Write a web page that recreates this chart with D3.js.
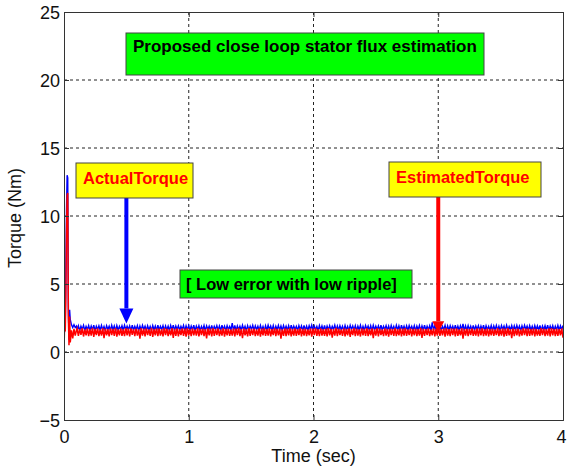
<!DOCTYPE html>
<html><head><meta charset="utf-8">
<script src="https://cdn.jsdelivr.net/npm/d3@7"></script>
<style>body{margin:0;background:#fff}svg{display:block}text{font-family:"Liberation Sans",Arial,sans-serif}</style>
</head><body><svg id="c" width="567" height="469"></svg>
<script>
const xTicks=[0,1,2,3,4];
const yTicks=[-5,0,5,10,15,20,25];
const xLabel="Time (sec)";
const yLabel="Torque (Nm)";
const transientT=[0,0.005,0.01,0.015,0.02,0.025,0.03,0.035,0.04,0.045,0.05,0.06,0.07,0.08,0.09,0.1];
const actualTransient=[0,2.5,2.2,6.3,10.5,13,12.8,3.2,0.9,3.1,2.4,2.0,1.8,2.0,1.8,1.9];
const estTransient=[0,2.2,1.5,4.0,8.8,11.5,11.7,2.5,0.5,2.6,0.7,1.6,1.0,1.7,1.2,1.6];
const actualSteady=[
1.61,1.93,1.57,1.90,1.66,1.96,1.59,1.88,1.64,1.94,
1.58,1.91,1.63,1.97,1.56,1.89,1.65,1.92,1.60,1.95,
1.62,1.88,1.57,1.94,1.66,1.90,1.59,1.97,1.63,1.91,
1.56,1.95,1.61,1.89,1.64,1.93,1.58,1.96,1.62,1.90,
1.65,1.92,1.57,1.98,1.60,1.89,1.63,1.94,1.56,1.91,
1.61,1.96,1.66,1.90,1.58,1.93,1.62,1.88,1.59,1.95,
1.64,1.91,1.57,1.97,1.60,1.89,1.65,1.94,1.58,1.92,
1.62,1.90,1.56,1.95,1.63,1.98,1.59,1.91,1.66,1.93,
1.60,1.89,1.64,1.96,1.57,1.92,1.61,1.94,1.58,1.90,
1.63,1.97,1.56,1.91,1.65,1.93,1.59,1.88,1.62,1.95,
1.57,1.92,1.64,1.90,1.60,1.96,1.58,1.89,1.66,1.94,
1.61,1.91,1.57,1.97,1.63,1.90,1.59,1.93,1.65,1.88,
1.62,2.12,1.58,1.95,1.56,1.92,1.64,1.90,1.60,1.97,
1.63,1.89,1.57,1.94,1.61,1.91,1.66,1.96,1.59,1.92,
1.64,1.90,1.58,1.95,1.62,1.88,1.56,1.93,1.60,1.97,
1.65,1.91,1.59,1.94,1.57,1.89,1.63,1.96,1.61,1.92,
1.58,1.95,1.64,1.90,1.60,1.93,1.56,1.98,1.62,1.91,
1.66,1.89,1.59,1.94,1.63,1.92,1.57,1.96,1.61,1.90,
1.58,1.93,1.65,1.97,1.60,1.91,1.64,1.88,1.57,1.95,
1.62,1.92,1.59,1.96,1.56,1.90,1.63,1.94,1.61,1.89,
1.65,1.97,1.58,1.91,1.60,1.93,1.64,1.90,1.57,1.95,
1.62,1.88,1.59,1.96,1.66,1.92,1.61,1.94,1.56,1.90,
1.63,1.97,1.58,1.89,1.60,1.95,1.65,1.91,1.59,1.93,
1.57,1.96,1.62,1.90,1.64,1.92,1.58,1.98,1.61,1.89,
1.66,1.94,1.60,1.91,1.57,1.95,1.63,1.88,1.59,1.96,
1.62,1.92,1.56,1.97,1.64,1.90,1.60,1.93,1.58,1.95,
1.65,1.89,1.61,1.94,1.57,1.91,1.63,1.96,1.59,1.92,
1.62,1.97,1.58,1.90,1.64,1.93,1.56,2.18,1.60,1.94,
1.66,1.91,1.59,1.95,1.61,1.89,1.63,1.96,1.57,1.92,
1.60,1.94,1.65,1.90,1.58,1.97,1.62,1.91,1.59,1.93,
1.64,2.06,1.57,1.92,1.61,1.95,1.63,1.89,1.58,1.96,
1.60,1.91,1.66,1.94,1.59,1.90,1.62,1.97,1.56,1.93,
1.64,1.89,1.61,1.95,1.58,1.92,1.63,1.96,1.60,1.90,
1.57,1.94,1.65,1.91,1.59,1.97,1.62,1.88,1.64,1.95,
1.58,1.92,1.60,1.96,1.63,1.90,1.57,1.93,1.61,1.97,
1.66,1.91,1.59,1.94,1.62,1.89,1.58,1.95,1.64,1.92,
1.60,1.96,1.57,1.90,1.63,1.93,1.61,1.98,1.59,1.91,
1.65,1.94,1.58,1.89,1.62,1.96,1.60,1.92,1.64,1.95
];
const estSteady=[
1.72,1.18,1.68,1.26,1.75,1.14,1.66,1.23,1.74,1.16,
1.69,1.21,1.77,1.12,1.70,1.24,1.73,1.17,1.67,1.20,
1.76,1.02,1.71,1.22,1.68,1.15,1.74,1.25,1.70,1.18,
1.75,1.13,1.67,1.23,1.73,1.19,1.69,1.16,1.76,1.22,
1.71,1.14,1.74,1.26,1.68,1.17,1.72,1.21,1.66,0.98,
1.75,1.20,1.70,1.15,1.73,1.24,1.67,1.18,1.77,1.12,
1.69,1.23,1.74,1.16,1.71,1.21,1.68,1.14,1.76,1.25,
1.72,1.17,1.66,1.22,1.75,1.04,1.70,1.19,1.73,1.15,
1.68,1.24,1.74,1.18,1.71,1.13,1.76,1.21,1.69,1.16,
1.73,1.23,1.67,1.20,1.75,1.14,1.70,1.25,1.72,1.17,
1.68,1.00,1.74,1.22,1.71,1.15,1.76,1.19,1.69,1.24,
1.73,1.16,1.67,1.21,1.75,1.13,1.70,1.23,1.72,1.18,
1.66,1.20,1.74,1.15,1.71,1.24,1.77,1.17,1.69,1.02,
1.73,1.22,1.68,1.14,1.75,1.19,1.70,1.25,1.72,1.16,
1.67,1.21,1.74,1.13,1.71,1.23,1.76,1.18,1.69,1.20,
1.73,1.15,1.68,1.24,1.75,1.17,1.70,1.22,1.72,0.99,
1.66,1.19,1.74,1.16,1.71,1.23,1.76,1.14,1.69,1.21,
1.73,1.18,1.68,1.25,1.75,1.15,1.70,1.20,1.72,1.17,
1.67,1.22,1.74,1.13,1.71,1.24,1.76,1.19,1.69,1.16,
1.73,1.21,1.68,1.18,1.72,1.14,1.75,1.23,1.70,1.05,
1.69,1.20,1.77,1.16,1.71,1.24,1.66,1.19,1.74,1.15,
1.70,1.22,1.73,1.12,1.68,1.25,1.75,1.17,1.72,1.21,
1.67,1.14,1.74,1.23,1.70,1.18,1.76,1.16,1.69,1.22,
1.73,1.01,1.68,1.20,1.75,1.15,1.71,1.24,1.66,1.17,
1.74,1.21,1.70,1.13,1.72,1.25,1.69,1.19,1.76,1.16,
1.68,1.23,1.73,1.14,1.71,1.20,1.75,1.18,1.67,1.24,
1.74,1.15,1.70,1.22,1.72,1.17,1.69,1.21,1.77,1.03,
1.71,1.19,1.68,1.25,1.74,1.16,1.66,1.22,1.73,1.14,
1.70,1.20,1.75,1.18,1.69,1.23,1.72,1.13,1.76,1.21,
1.68,1.17,1.74,1.24,1.71,1.15,1.73,1.19,1.67,1.22,
1.75,0.98,1.70,1.20,1.72,1.16,1.69,1.25,1.74,1.18,
1.66,1.21,1.73,1.14,1.71,1.23,1.76,1.17,1.68,1.20,
1.74,1.15,1.70,1.22,1.72,1.19,1.67,1.24,1.75,1.16,
1.69,1.21,1.73,1.13,1.71,1.18,1.76,1.23,1.68,1.02,
1.74,1.17,1.70,1.22,1.72,1.15,1.66,1.20,1.75,1.24,
1.71,1.16,1.73,1.19,1.69,1.23,1.74,1.14,1.70,1.21,
1.67,1.18,1.76,1.25,1.72,1.17,1.68,1.20,1.73,1.15,
1.75,1.22,1.70,1.16,1.71,1.19,1.69,1.23,1.74,1.05
];
const titleNote="Proposed close loop stator flux estimation";
const noteLow="[ Low error with low ripple]";
const labelActual="ActualTorque";
const labelEst="EstimatedTorque";

const svg=d3.select("#c");
const L=64,R=563,T=12,B=420;
const x=d3.scaleLinear().domain([0,4]).range([L,R]);
const y=d3.scaleLinear().domain([-5,25]).range([B,T]);

function series(tr,vals,steady){
  const n=steady.length;
  const st=d3.range(n).map(i=>0.105+i*(3.895/(n-1)));
  return tr.map((t,i)=>[t,vals[i]]).concat(st.map((t,i)=>[t,steady[i]]));
}
const actual=series(transientT,actualTransient,actualSteady);
const est=series(transientT,estTransient,estSteady);

// grid
const g=svg.append("g");
g.selectAll(".vg").data(xTicks.filter(d=>d>0&&d<4)).enter().append("line")
 .attr("x1",d=>x(d)).attr("x2",d=>x(d)).attr("y1",T).attr("y2",B)
 .attr("stroke","#222").attr("stroke-width",1).attr("stroke-dasharray","3,3");
g.selectAll(".hg").data(yTicks.filter(d=>d>-5&&d<25)).enter().append("line")
 .attr("x1",L).attr("x2",R).attr("y1",d=>y(d)).attr("y2",d=>y(d))
 .attr("stroke","#222").attr("stroke-width",1).attr("stroke-dasharray","3,3");

// clip
svg.append("clipPath").attr("id","cl").append("rect").attr("x",L).attr("y",T).attr("width",R-L).attr("height",B-T);
const line=d3.line().x(d=>x(d[0])).y(d=>y(d[1]));
svg.append("path").datum(actual).attr("d",line).attr("fill","none").attr("stroke","#0000ff").attr("stroke-width",1.4).attr("clip-path","url(#cl)");
svg.append("path").datum(est).attr("d",line).attr("fill","none").attr("stroke","#ff0000").attr("stroke-width",1.5).attr("clip-path","url(#cl)");

// axes
const xa=svg.append("g").attr("transform",`translate(0,${B})`).call(d3.axisBottom(x).tickValues(xTicks).tickSize(-5).tickPadding(10).tickFormat(d3.format("d")));
const xa2=svg.append("g").attr("transform",`translate(0,${T})`).call(d3.axisTop(x).tickValues(xTicks).tickSize(-5).tickFormat(""));
const ya=svg.append("g").attr("transform",`translate(${L},0)`).call(d3.axisLeft(y).tickValues(yTicks).tickSize(-5).tickPadding(4).tickFormat(d3.format("d")));
const ya2=svg.append("g").attr("transform",`translate(${R},0)`).call(d3.axisRight(y).tickValues(yTicks).tickSize(-5).tickFormat(""));
[xa,xa2,ya,ya2].forEach(a=>{a.select(".domain").attr("stroke","#333");a.selectAll(".tick line").attr("stroke","#333");
 a.selectAll("text").attr("font-size",18).attr("fill","#111").style("font-family","'Liberation Sans',Arial,sans-serif");});
ya.selectAll("text").attr("dy","0.35em");
xa.selectAll("text").filter(d=>d===4).attr("dx",-2);

svg.append("text").attr("x",x(2)).attr("y",462).attr("text-anchor","middle").attr("font-size",18).attr("fill","#111").text(xLabel);
svg.append("text").attr("transform",`translate(21,218) rotate(-90)`).attr("text-anchor","middle").attr("font-size",18).attr("fill","#111").text(yLabel);

// annotation boxes
function box(x0,y0,w,h,fill,txt,col,fs,tx,ty){
  svg.append("rect").attr("x",x0).attr("y",y0).attr("width",w).attr("height",h).attr("fill",fill).attr("stroke","#444").attr("stroke-width",1);
  svg.append("text").attr("x",tx).attr("y",ty).attr("font-size",fs).attr("font-weight","bold").attr("fill",col).text(txt);
}
box(126,33,358,42,"#00ff00",titleNote,"#000",17,133,52);
box(180,270,232,28,"#00ff00",noteLow,"#000",16.5,186,290);

// arrows
function arrow(xp,y0,y1,col,sw,hw,hh){
  svg.append("line").attr("x1",xp).attr("x2",xp).attr("y1",y0).attr("y2",y1-hh).attr("stroke",col).attr("stroke-width",sw);
  svg.append("path").attr("d",`M${xp-hw/2},${y1-hh}L${xp+hw/2},${y1-hh}L${xp},${y1}Z`).attr("fill",col);
}
arrow(x(0.5),198,y(2.1),"#0000ff",4,14,15);
arrow(x(3.0),197,y(1.45),"#ff0000",4,12,11);

box(76,163,117,35,"#ffff00",labelActual,"#ff0000",16.5,83,184);
box(389,162,152,35,"#ffff00",labelEst,"#ff0000",16.5,396,183);
</script></body></html>
